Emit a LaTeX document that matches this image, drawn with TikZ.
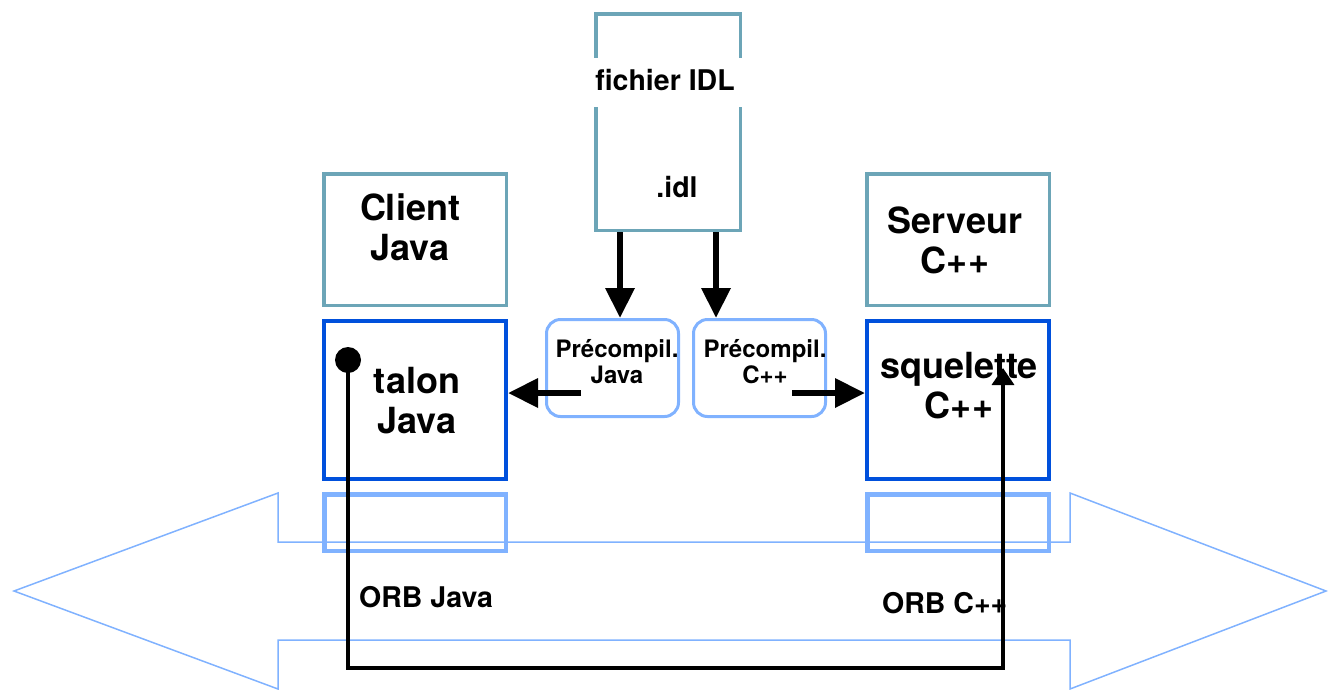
\documentclass[tikz,border=0pt]{standalone}
\usepackage{fontspec}
\setmainfont{TeX Gyre Heros}
\usetikzlibrary{arrows.meta,calc}
\definecolor{cteal}{HTML}{6CA5B7}
\definecolor{cdark}{HTML}{0050DC}
\definecolor{clight}{HTML}{80B2FF}
\begin{document}
\begin{tikzpicture}[x=1pt,y=-1pt,
  box/.style={draw, rectangle, inner sep=0pt},
  tealbox/.style={box, draw=cteal, line width=3.5pt},
  stubbox/.style={box, draw=cdark, line width=4pt},
  orbbox/.style={box, draw=clight, line width=4.5pt},
  prebox/.style={box, draw=clight, line width=3pt, rounded corners=14pt, fill=white},
  biglbl/.style={font=\bfseries\fontsize{36}{40}\selectfont, align=center, inner sep=0pt},
  midlbl/.style={font=\bfseries\fontsize{28.5}{33}\selectfont, inner sep=0pt},
  prelbl/.style={font=\bfseries\fontsize{24}{26}\selectfont, align=center, inner sep=0pt},
  fat/.style={draw=black, line width=6.5pt, -{Triangle[length=30pt,width=28pt]}},
  conn/.style={draw=black, line width=3.5pt},
  bigarrow/.style={draw=clight, line width=1.5pt, line join=miter}
]
\useasboundingbox (0,0) rectangle (1328,689);

% large double arrow (ORB bus)
\draw[bigarrow] (14,591) -- (278,493) -- (278,542) -- (1070,542) -- (1070,493)
  -- (1326,591) -- (1070,689) -- (1070,640) -- (278,640) -- (278,689) -- cycle;

% boxes
\node[tealbox, minimum width=144.5pt, minimum height=216.5pt] (idl) at (668,122) {};
\node[tealbox, minimum width=182.5pt, minimum height=131.5pt] (client) at (415,239.5) {};
\node[tealbox, minimum width=182.5pt, minimum height=131.5pt] (serveur) at (958,239.5) {};
\node[stubbox, minimum width=182pt, minimum height=158pt] (talon) at (415,400) {};
\node[stubbox, minimum width=182pt, minimum height=158pt] (squel) at (958,400) {};
\node[orbbox, minimum width=181.5pt, minimum height=56.5pt] (orbj) at (415,522.5) {};
\node[orbbox, minimum width=181.5pt, minimum height=56.5pt] (orbc) at (958,522.5) {};
\node[prebox, minimum width=132pt, minimum height=97pt] (pj) at (612.5,368) {};
\node[prebox, minimum width=132pt, minimum height=97pt] (pc) at (759.5,368) {};

% labels
\node[midlbl, fill=white, inner xsep=10pt, inner ysep=11pt, text depth=6pt, anchor=base] (idltxt) at (665,90) {fichier IDL};
\node[midlbl, anchor=base] (idlext) at (677,197) {.idl};
\node[biglbl] (clienttxt) at (410,227) {Client\\Java};
\node[biglbl] (serveurtxt) at (955,240) {Serveur\\C++};
\node[biglbl] (talontxt) at (417,401) {talon\\Java};
\node[biglbl] (squeltxt) at (959,386) {squelette\\C++};
\node[prelbl] (pjtxt) at (617,361.5) {Précompil.\\Java};
\node[prelbl] (pctxt) at (765,361.5) {Précompil.\\C++};
\node[midlbl, anchor=base west] (orbjtxt) at (359,607) {ORB Java};
\node[midlbl, anchor=base west] (orbctxt) at (882,613) {ORB C++};

% arrows from IDL file to precompilers
\coordinate (xa) at (620,0);
\coordinate (xb) at (716,0);
\draw[fat] (idl.south -| xa) -- (pj.north -| xa);
\draw[fat] (idl.south -| xb) -- (pc.north -| xb);

% arrows from precompilers to stub / skeleton
\coordinate (pjout) at ($(pj.west)+(36,25)$);
\coordinate (pcout) at ($(pc.east)+(-35,25)$);
\draw[fat] (pjout) -- (talon.east |- pjout);
\draw[fat] (pcout) -- (squel.west |- pcout);

% invocation path from stub to skeleton through the ORBs
\coordinate (dot) at (348,360);
\coordinate (tip) at (1003,368);
\coordinate (bot) at (0,668);
\fill[black] (dot) circle (13pt);
\draw[conn, -{Triangle[length=17pt,width=22pt]}] (dot) -- (dot |- bot) -- (tip |- bot) -- (tip);
\end{tikzpicture}
\end{document}
